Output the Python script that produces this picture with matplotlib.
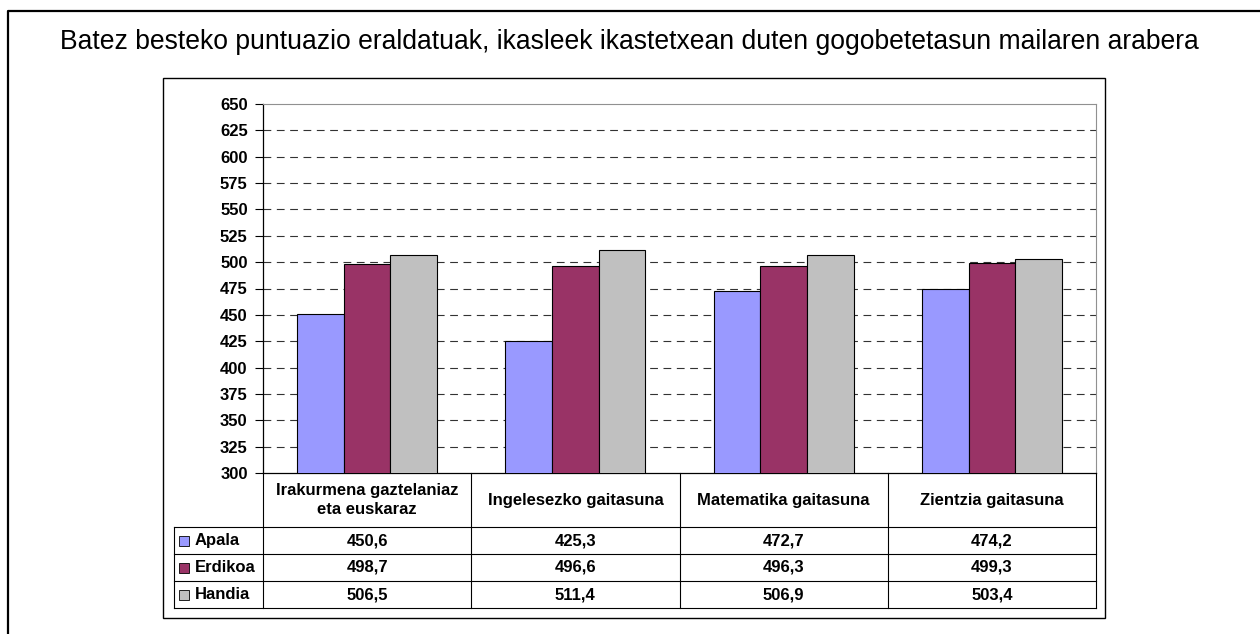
import numpy as np
import matplotlib
matplotlib.use("Agg")
import matplotlib.pyplot as plt
from matplotlib.patches import Rectangle
from matplotlib.lines import Line2D

plt.rcParams['font.family'] = ['Liberation Sans', 'DejaVu Sans']

# data
title = "Batez besteko puntuazio eraldatuak, ikasleek ikastetxean duten gogobetetasun mailaren arabera"
categories = ["Irakurmena gaztelaniaz\neta euskaraz", "Ingelesezko gaitasuna",
              "Matematika gaitasuna", "Zientzia gaitasuna"]
series_names = ["Apala", "Erdikoa", "Handia"]
apala = [450.6, 425.3, 472.7, 474.2]
erdikoa = [498.7, 496.6, 496.3, 499.3]
handia = [506.5, 511.4, 506.9, 503.4]
colors = ["#9999FF", "#993366", "#C0C0C0"]
yticks = list(range(300, 651, 25))

series = [apala, erdikoa, handia]

W, H = 1260, 634
fig = plt.figure(figsize=(W / 100, H / 100), dpi=100)

def box(x0, y0, x1, y1):
    # pixel box (top-left origin) -> figure fraction rect
    return [x0 / W, 1 - y1 / H, (x1 - x0) / W, (y1 - y0) / H]

# outer frame (top and left edges visible)
fig.add_artist(Line2D([8 / W, 8 / W, 1], [0, 1 - 11 / H, 1 - 11 / H],
                      transform=fig.transFigure, color="black", lw=1.6))
# inner chart frame
fig.add_artist(Rectangle((163 / W, 1 - 618 / H), (1105 - 163) / W, (618 - 78) / H,
                         transform=fig.transFigure, fill=False, ec="black", lw=1.0))

fig.text(629 / W, 1 - 42 / H, title, ha="center", va="center", fontsize=19.1)

# plot area
ax = fig.add_axes(box(263, 104, 1096, 473))
x = np.arange(len(categories))
bw = 0.224
for i, (vals, c) in enumerate(zip(series, colors)):
    ax.bar(x + (i - 1) * bw, vals, width=bw, color=c, edgecolor="black",
           linewidth=0.8, zorder=3)
ax.set_xlim(-0.5, len(categories) - 0.5)
ax.set_ylim(yticks[0], yticks[-1])
ax.set_yticks(yticks)
ax.set_yticklabels([str(t) for t in yticks], fontweight="bold", fontsize=12)
ax.tick_params(axis="y", direction="out", length=6, width=0.8, pad=5)
ax.set_xticks([])
for t in yticks[1:-1]:
    ax.axhline(t, color="#333333", lw=0.8, dashes=(7, 5), zorder=1)
for s in ["top", "right"]:
    ax.spines[s].set_color("#909090")
    ax.spines[s].set_linewidth(0.8)
for s in ["left", "bottom"]:
    ax.spines[s].set_color("black")
    ax.spines[s].set_linewidth(0.9)

# data table below the plot
tax = fig.add_axes(box(174, 473, 1096, 608))
lw_col = (263 - 174) / ((1096 - 263) / len(categories))
left = -0.5 - lw_col
tax.set_xlim(left, len(categories) - 0.5)
tax.set_ylim(5, 0)
tax.axis("off")
lc = "black"
for xi in np.arange(len(categories) + 1) - 0.5:
    tax.plot([xi, xi], [0, 5], color=lc, lw=0.8, clip_on=False)
tax.plot([left, left], [2, 5], color=lc, lw=0.8, clip_on=False)
for yi in [2, 3, 4, 5]:
    tax.plot([left, len(categories) - 0.5], [yi, yi], color=lc, lw=0.8, clip_on=False)

for j, cat in enumerate(categories):
    tax.text(j, 1.0, cat, ha="center", va="center", fontsize=12,
             fontweight="bold", linespacing=1.4)
for i, (name, vals, c) in enumerate(zip(series_names, series, colors)):
    yc = 2.5 + i
    tax.plot([left + 0.05], [yc], marker="s", markersize=6.5, color=c,
             markeredgecolor="black", markeredgewidth=0.6, clip_on=False)
    tax.text(left + 0.1, yc, name, ha="left", va="center", fontsize=12,
             fontweight="bold")
    for j, v in enumerate(vals):
        tax.text(j, yc, f"{v:.1f}".replace(".", ","), ha="center", va="center",
                 fontsize=12, fontweight="bold")

fig.savefig("out.png", dpi=100)
